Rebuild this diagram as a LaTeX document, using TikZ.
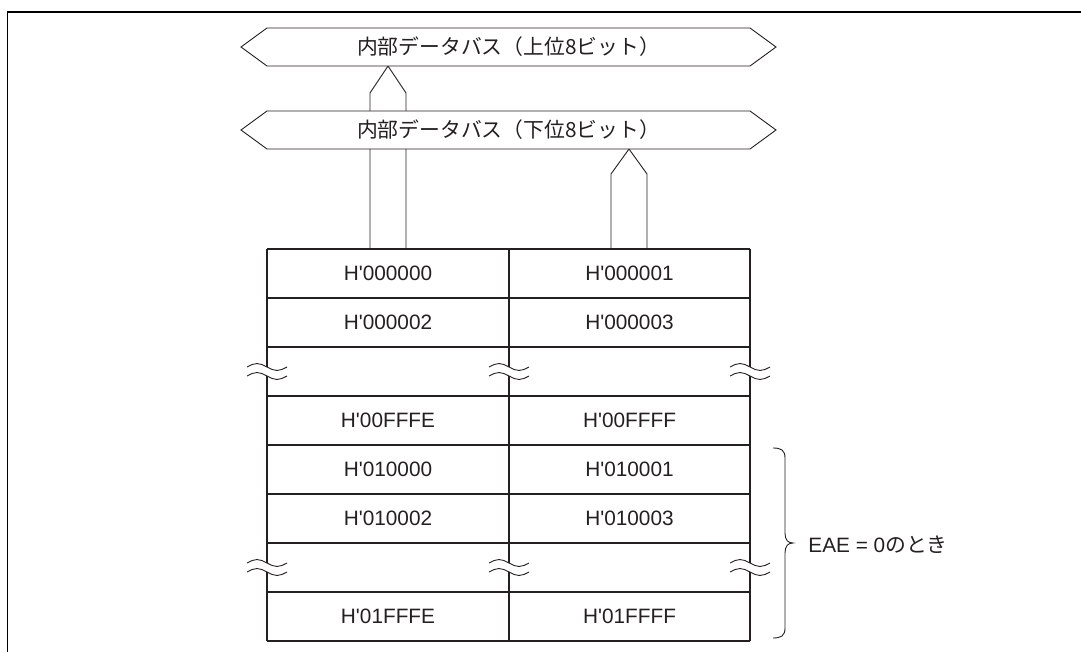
\documentclass[tikz,border=0pt]{standalone}
\usepackage{fontspec}
\setmainfont{Liberation Sans}[Ligatures=TeXOff]
\newfontfamily\jpfont{Noto Sans CJK JP}
\usetikzlibrary{calc}
\definecolor{ink}{rgb}{0.14,0.12,0.13}

\begin{document}
\begin{tikzpicture}[x=0.5pt,y=-0.5pt,
  bus/.style={draw=ink,line width=0.45pt,fill=white},
  busarrow/.style={draw=ink,line width=0.45pt,fill=white},
  grid/.style={draw=ink,line width=0.6pt},
  cell/.style={font=\fontsize{10.4}{12}\selectfont,text=ink,inner sep=0pt},
  buslabel/.style={font=\fontsize{10.4}{12}\selectfont\jpfont,text=ink,inner sep=0pt},
  wave/.style={draw=ink,line width=0.45pt}]
\useasboundingbox (0,0) rectangle (1081,652);
\draw[line width=0.85pt] (7.5,652) -- (7.5,12) -- (1081,12);
% bus arrows, under the buses
\draw[busarrow] (370,249) -- (370,93) -- (388,66) -- (406,93) -- (406,249);
\draw[busarrow] (611,249) -- (611,174) -- (629,149) -- (647,174) -- (647,249);
% internal data buses
\draw[bus] (241,47) -- (267,28) -- (750,28) -- (776,47) -- (750,66) -- (267,66) -- cycle;
\draw[bus] (241,130) -- (267,111) -- (750,111) -- (776,130) -- (750,149) -- (267,149) -- cycle;
\node[buslabel] (bushi) at (508.5,47) {内部データバス（上位8ビット）};
\node[buslabel] (buslo) at (508.5,130) {内部データバス（下位8ビット）};
% memory map
\foreach \y in {249,298,...,641} \draw[grid] (267,\y) -- (750,\y);
\foreach \x in {267,509,750} \draw[grid] (\x,249) -- (\x,641);
\foreach \x in {267,509,750} \foreach \y in {371.5,567.5} {
  \fill[white] (\x-3,\y-4.5) rectangle (\x+3,\y+4.5);
  \draw[wave] (\x-20,\y-4.5) sin (\x-10,\y-8) cos (\x,\y-4.5) sin (\x+10,\y-1) cos (\x+20,\y-4.5);
  \draw[wave] (\x-20,\y+4.5) sin (\x-10,\y+1) cos (\x,\y+4.5) sin (\x+10,\y+8) cos (\x+20,\y+4.5);
}
\node[cell] (a0) at (388,273.5) {H'000000};
\node[cell] (a1) at (629.5,273.5) {H'000001};
\node[cell] (a2) at (388,322.5) {H'000002};
\node[cell] (a3) at (629.5,322.5) {H'000003};
\node[cell] (b0) at (388,420.5) {H'00FFFE};
\node[cell] (b1) at (629.5,420.5) {H'00FFFF};
\node[cell] (c0) at (388,469.5) {H'010000};
\node[cell] (c1) at (629.5,469.5) {H'010001};
\node[cell] (c2) at (388,518.5) {H'010002};
\node[cell] (c3) at (629.5,518.5) {H'010003};
\node[cell] (d0) at (388,616.5) {H'01FFFE};
\node[cell] (d1) at (629.5,616.5) {H'01FFFF};
% brace for EAE = 0
\draw[wave] (773,448) .. controls (781,448) and (785,450) .. (785,458) -- (785,533)
  .. controls (785,540) and (788,543) .. (793,543)
  .. controls (788,543) and (785,546) .. (785,553) -- (785,628)
  .. controls (785,636) and (781,638) .. (773,638);
\node[cell,anchor=west] (eae) at (808,545) {EAE = 0{\jpfont のとき}};
\end{tikzpicture}
\end{document}
